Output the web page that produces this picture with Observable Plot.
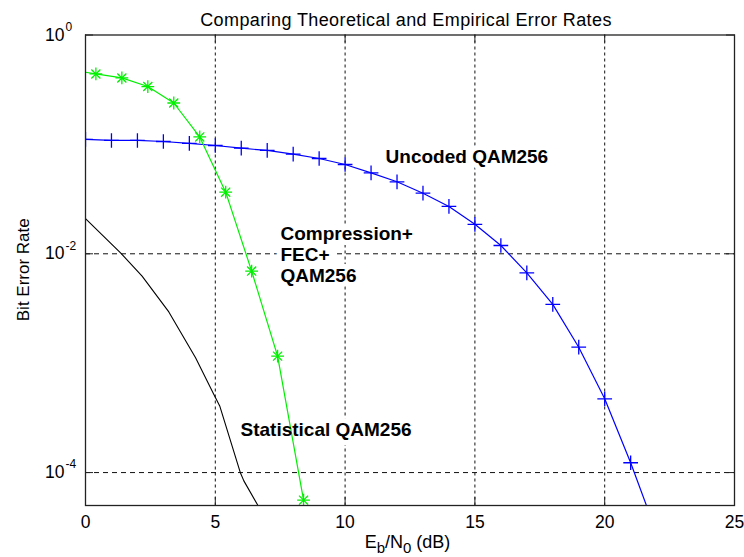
<!DOCTYPE html>
<html>
<head>
<meta charset="utf-8">
<script src="https://cdn.jsdelivr.net/npm/d3@7"></script>
<script src="https://cdn.jsdelivr.net/npm/@observablehq/plot@0.6"></script>
<style>
  body { margin: 0; background: #fff; }
  #wrap { position: relative; width: 744px; height: 557px; font-family: "Liberation Sans", Arial, sans-serif; }
  #title { position: absolute; z-index: 2; top: 10px; left: 0; width: 812px; text-align: center; font-size: 18px; letter-spacing: 0.4px; line-height: 20px; color: #000; }
</style>
</head>
<body>
<div id="wrap"><div id="title">Comparing Theoretical and Empirical Error Rates</div></div>
<script>
// ---- data ----
const uncodedEbN0 = [0, 1, 2, 3, 4, 5, 6, 7, 8, 9, 10, 11, 12, 13, 14, 15, 16, 17, 18, 19, 20, 21, 22];
const uncodedBer  = [0.111, 0.1086, 0.1086, 0.1063, 0.102, 0.0977, 0.0923, 0.088, 0.0814, 0.0743,
                     0.0655, 0.0549, 0.0455, 0.0358, 0.0271, 0.0186, 0.0119, 0.0067, 0.00345, 0.0014,
                     0.000472, 0.000123, 0.000028];

const fecEbN0 = [0, 0.4, 1.4, 2.4, 3.4, 4.4, 5.4, 6.4, 7.4, 8.4];
const fecBer  = [0.4565, 0.4405, 0.405, 0.338, 0.239, 0.117, 0.0366, 0.00695, 0.00116, 0.000056];
const fecHasMarker = [false, true, true, true, true, true, true, true, true, true];

const statEbN0 = [0, 1.35, 2.18, 3.21, 4.24, 4.94, 5.17, 5.97, 6.1, 6.8];
const statBer  = [0.021, 0.0102, 0.00625, 0.00294, 0.00112, 0.00052, 0.000407, 0.000099, 0.000084, 0.000043];

const labelText = ["Uncoded QAM256", "Compression+\nFEC+\nQAM256", "Statistical QAM256"];
const labelX    = [11.56, 7.51, 5.97];
const labelY    = [0.0775, 0.00986, 0.000248];

const xTicks = [0, 5, 10, 15, 20, 25];
const xGrid  = [5, 10, 15, 20];
const yTicks = [1, 1e-2, 1e-4];
const yTickExp = ["0", "-2", "-4"];
const yGrid  = [1e-2, 1e-4];
const xDomain = [0, 25];
const yDomain = [5e-5, 1];

// ---- tables ----
const uncoded = uncodedEbN0.map((x, i) => ({x, y: uncodedBer[i]}));
const fec = fecEbN0.map((x, i) => ({x, y: fecBer[i], m: fecHasMarker[i]}));
const fecMarks = fec.filter(d => d.m);
const stat = statEbN0.map((x, i) => ({x, y: statBer[i]}));
const labels = labelText.map((t, i) => ({t, x: labelX[i], y: labelY[i]}));
const yTickRows = yTicks.map((v, i) => ({v, e: yTickExp[i]}));

const W = 744, H = 557, mL = 85, mR = 10, mT = 34.5, mB = 52;
const innerW = W - mL - mR, innerH = H - mT - mB;
const tickLen = 8;
const green = "#00f000", blue = "#0000ff";

const labelFont = {fontSize: 19, fontWeight: "bold", textAnchor: "start", lineHeight: 1.09};

const plot = Plot.plot({
  width: W, height: H,
  marginLeft: mL, marginRight: mR, marginTop: mT, marginBottom: mB,
  style: {fontFamily: "'Liberation Sans', Arial, sans-serif", fontSize: "17px", background: "white", color: "black", overflow: "visible"},
  x: {domain: xDomain},
  y: {type: "log", domain: yDomain, axis: null},
  marks: [
    // grid
    Plot.ruleX(xGrid, {x: d => d, stroke: "#111", strokeWidth: 1, strokeDasharray: "3,3"}),
    Plot.ruleY(yGrid, {y: d => d, stroke: "#111", strokeWidth: 1, strokeDasharray: "5,4"}),
    // label backgrounds (hide grid behind text)
    Plot.text(labels, {x: "x", y: "y", text: "t", ...labelFont, fill: "white", stroke: "white", strokeWidth: 10}),
    // data
    Plot.line(stat, {x: "x", y: "y", stroke: "black", strokeWidth: 1.1, clip: true}),
    Plot.line(uncoded, {x: "x", y: "y", stroke: blue, strokeWidth: 1.2, clip: true}),
    Plot.dot(uncoded, {x: "x", y: "y", symbol: "plus", r: 4.8, stroke: blue, strokeWidth: 1.3, clip: true}),
    Plot.line(fec, {x: "x", y: "y", stroke: green, strokeWidth: 1.2, clip: true}),
    Plot.dot(fecMarks, {x: "x", y: "y", symbol: "plus", r: 4.2, stroke: green, strokeWidth: 1.3, clip: true}),
    Plot.dot(fecMarks, {x: "x", y: "y", symbol: "plus", r: 4.2, rotate: 45, stroke: green, strokeWidth: 1.3, clip: true}),
    // labels
    Plot.text(labels, {x: "x", y: "y", text: "t", ...labelFont, fill: "black"}),
    // frame & inner ticks
    Plot.frame({stroke: "#222", strokeWidth: 1.3}),
    Plot.tickX(xTicks, {x: d => d, insetTop: innerH - tickLen, stroke: "#222"}),
    Plot.tickX(xTicks, {x: d => d, insetBottom: innerH - tickLen, stroke: "#222"}),
    Plot.tickY(yTicks, {y: d => d, insetRight: innerW - tickLen, stroke: "#222"}),
    Plot.tickY(yTicks, {y: d => d, insetLeft: innerW - tickLen, stroke: "#222"}),
    // x tick labels
    Plot.axisX({ticks: xTicks, tickSize: 0, tickPadding: 10, label: null, tickFormat: d => String(d), fontSize: 17.5}),
    // y tick labels: 10 with superscript exponent
    Plot.text(yTickRows, {frameAnchor: "left", y: "v", text: () => "10", textAnchor: "end", dx: -21, fontSize: 17.5, fill: "black"}),
    Plot.text(yTickRows, {frameAnchor: "left", y: "v", text: "e", textAnchor: "start", dx: -20, dy: -8, fontSize: 12, fill: "black"})
  ]
});

document.getElementById("wrap").appendChild(plot);

// axis titles with sub/superscripts as real text
const svg = d3.select(plot);
const xl = svg.append("text")
  .attr("x", (mL + (W - mR)) / 2 - 2)
  .attr("y", 548)
  .attr("text-anchor", "middle")
  .attr("font-size", 18)
  .attr("fill", "black");
xl.append("tspan").text("E");
xl.append("tspan").attr("dy", 5).attr("font-size", 15).text("b");
xl.append("tspan").attr("dy", -5).text("/N");
xl.append("tspan").attr("dy", 5).attr("font-size", 15).text("0");
xl.append("tspan").attr("dy", -5).text(" (dB)");

svg.append("text")
  .attr("transform", `translate(29,${(mT + H - mB) / 2}) rotate(-90)`)
  .attr("text-anchor", "middle")
  .attr("font-size", 17)
  .attr("fill", "black")
  .text("Bit Error Rate");
</script>
</body>
</html>
